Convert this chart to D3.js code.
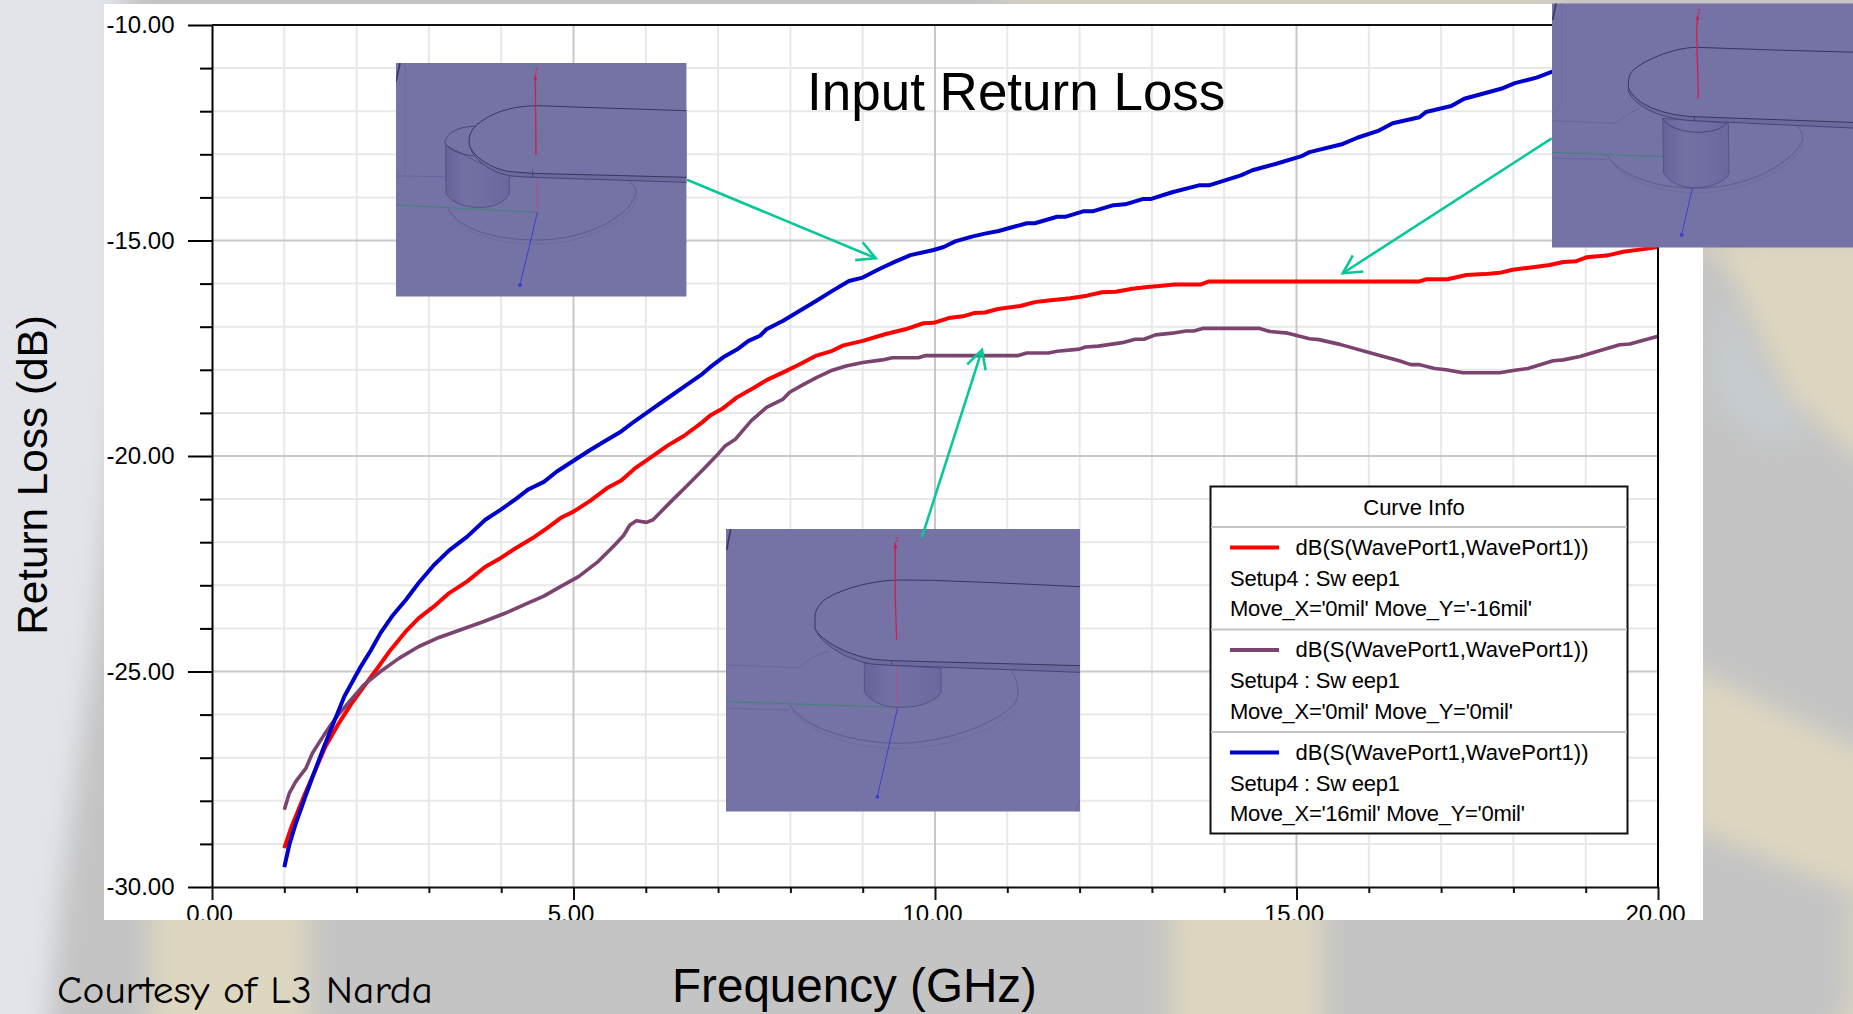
<!DOCTYPE html>
<html>
<head>
<meta charset="utf-8">
<script src="https://cdn.jsdelivr.net/npm/d3@7"></script>
<style>
html, body { margin: 0; padding: 0; background: #c4c4c4; overflow: hidden; }
text { font-family: "Liberation Sans", Arial, sans-serif; fill: #000; }
</style>
</head>
<body>
<svg id="chart" width="1853" height="1014"></svg>
<script>
var width = 1853, height = 1014;

// values: frequency in GHz, return loss in dB
var redFreq = [1.0,1.1,1.28,1.41,1.57,1.74,1.92,2.1,2.29,2.47,2.68,2.86,3.07,3.28,3.53,3.78,3.99,4.2,4.43,4.63,4.84,5.0,5.23,5.46,5.66,5.84,6.07,6.3,6.53,6.78,6.89,7.07,7.26,7.49,7.67,7.9,8.13,8.36,8.58,8.72,9.0,9.32,9.59,9.84,9.98,10.19,10.41,10.55,10.69,10.87,11.18,11.38,11.57,11.87,12.1,12.31,12.5,12.73,12.94,13.14,13.31,13.68,13.79,16.7,16.79,17.09,17.35,17.6,17.81,17.99,18.27,18.5,18.69,18.87,19.01,19.29,19.52,19.8,20];
var redDb = [-29.1,-28.6,-27.86,-27.36,-26.74,-26.24,-25.77,-25.35,-24.92,-24.5,-24.07,-23.76,-23.49,-23.18,-22.91,-22.57,-22.37,-22.14,-21.91,-21.68,-21.42,-21.29,-21.04,-20.75,-20.57,-20.3,-20.03,-19.76,-19.53,-19.22,-19.06,-18.89,-18.64,-18.42,-18.24,-18.06,-17.87,-17.67,-17.56,-17.44,-17.33,-17.17,-17.06,-16.92,-16.91,-16.8,-16.75,-16.68,-16.67,-16.59,-16.52,-16.43,-16.39,-16.34,-16.28,-16.2,-16.19,-16.12,-16.08,-16.05,-16.02,-16.02,-15.95,-15.95,-15.9,-15.9,-15.8,-15.78,-15.75,-15.68,-15.62,-15.57,-15.5,-15.48,-15.39,-15.35,-15.26,-15.2,-15.15];

var purpleFreq = [1.0,1.07,1.16,1.3,1.39,1.55,1.71,1.9,2.1,2.33,2.59,2.86,3.11,3.44,3.76,4.08,4.36,4.59,4.82,5.07,5.34,5.55,5.69,5.78,5.87,6.01,6.1,6.34,6.57,6.8,6.98,7.1,7.24,7.46,7.67,7.9,7.99,8.17,8.36,8.58,8.77,9.0,9.27,9.41,9.77,9.87,11.15,11.27,11.57,11.69,12.0,12.08,12.26,12.59,12.77,12.89,13.05,13.28,13.47,13.58,13.7,14.49,14.63,14.88,15.18,15.31,15.6,16.14,16.42,16.58,16.7,16.91,17.07,17.3,17.81,18.02,18.2,18.55,18.69,18.92,19.2,19.47,19.61,20];
var purpleDb = [-28.21,-27.82,-27.55,-27.24,-26.89,-26.47,-26.08,-25.7,-25.31,-25.0,-24.69,-24.42,-24.23,-24.03,-23.84,-23.63,-23.42,-23.25,-23.03,-22.8,-22.45,-22.1,-21.85,-21.6,-21.5,-21.54,-21.48,-21.07,-20.69,-20.3,-19.99,-19.76,-19.61,-19.18,-18.87,-18.68,-18.52,-18.35,-18.18,-18.01,-17.91,-17.83,-17.77,-17.72,-17.72,-17.67,-17.67,-17.61,-17.61,-17.57,-17.52,-17.47,-17.45,-17.37,-17.29,-17.29,-17.19,-17.15,-17.1,-17.1,-17.04,-17.04,-17.11,-17.15,-17.28,-17.3,-17.41,-17.66,-17.79,-17.88,-17.88,-17.97,-18.0,-18.07,-18.07,-18.01,-17.97,-17.79,-17.77,-17.69,-17.55,-17.42,-17.4,-17.22];

// the last two blue points sit behind the top right inset, so they are a guess
var blueFreq = [1.0,1.07,1.16,1.3,1.41,1.55,1.69,1.83,1.97,2.06,2.2,2.33,2.49,2.68,2.86,3.07,3.28,3.53,3.78,3.99,4.2,4.38,4.59,4.77,5.0,5.23,5.46,5.66,5.84,6.07,6.3,6.53,6.78,6.89,7.07,7.26,7.42,7.58,7.67,7.9,8.13,8.36,8.58,8.81,9.0,9.23,9.45,9.66,9.98,10.12,10.28,10.51,10.69,10.88,11.27,11.38,11.69,11.8,12.06,12.19,12.47,12.63,12.87,12.98,13.28,13.65,13.79,14.23,14.39,14.72,15.06,15.18,15.64,15.85,16.14,16.33,16.7,16.79,17.14,17.32,17.83,18.02,18.32,18.53,19.3,20];
var blueDb = [-29.54,-29.02,-28.52,-27.86,-27.36,-26.74,-26.16,-25.58,-25.15,-24.88,-24.5,-24.11,-23.72,-23.34,-22.94,-22.53,-22.19,-21.87,-21.48,-21.25,-21.0,-20.77,-20.6,-20.36,-20.11,-19.86,-19.63,-19.43,-19.2,-18.93,-18.66,-18.39,-18.1,-17.94,-17.71,-17.53,-17.33,-17.21,-17.06,-16.86,-16.63,-16.4,-16.17,-15.94,-15.86,-15.66,-15.49,-15.34,-15.22,-15.15,-15.02,-14.91,-14.84,-14.78,-14.6,-14.6,-14.45,-14.45,-14.32,-14.32,-14.18,-14.16,-14.04,-14.04,-13.88,-13.72,-13.72,-13.49,-13.37,-13.22,-13.05,-12.95,-12.76,-12.61,-12.45,-12.28,-12.14,-12.02,-11.88,-11.71,-11.48,-11.35,-11.22,-11.09,-10.7,-10.4];

var xMajor = [0, 5, 10, 15, 20];
var xMinor = [1,2,3,4,6,7,8,9,11,12,13,14,16,17,18,19];
var yMajor = [-10, -15, -20, -25, -30];
var yMinor = [-11,-12,-13,-14,-16,-17,-18,-19,-21,-22,-23,-24,-26,-27,-28,-29];

var legendTitle = "Curve Info";
var legendHead = ["dB(S(WavePort1,WavePort1))", "dB(S(WavePort1,WavePort1))", "dB(S(WavePort1,WavePort1))"];
var legendSetup = ["Setup4 : Sw eep1", "Setup4 : Sw eep1", "Setup4 : Sw eep1"];
var legendMove = ["Move_X='0mil' Move_Y='-16mil'", "Move_X='0mil' Move_Y='0mil'", "Move_X='16mil' Move_Y='0mil'"];
var curveColors = ["#ff0000", "#7b4470", "#0000cc"];

// arrows from the insets to the curves, [freq, dB] tail then tip
var arrowUnderA = [[6.57, -13.59], [9.18, -15.41]];
var arrowUnderB = [[18.53, -12.63], [15.64, -15.76]];
var arrowOver = [[9.82, -21.88], [10.65, -17.54]];

var svg = d3.select("#chart");
var plot = {left: 212, right: 1658, top: 25, bottom: 887};

var x = d3.scaleLinear().domain([0, 20]).range([plot.left, plot.right]);
var y = d3.scaleLinear().domain([-30, -10]).range([plot.bottom, plot.top]);

var defs = svg.append("defs");
defs.append("filter").attr("id", "blur")
    .attr("filterUnits", "userSpaceOnUse")
    .attr("x", -60).attr("y", -60).attr("width", width + 120).attr("height", height + 120)
    .append("feGaussianBlur").attr("stdDeviation", 13);
defs.append("clipPath").attr("id", "plot-clip")
    .append("rect").attr("x", plot.left).attr("y", plot.top - 2)
    .attr("width", plot.right - plot.left + 2).attr("height", plot.bottom - plot.top + 4);
var viaFill = defs.append("linearGradient").attr("id", "via");
viaFill.append("stop").attr("offset", "0%").attr("stop-color", "#65639a");
viaFill.append("stop").attr("offset", "35%").attr("stop-color", "#7371a4");
viaFill.append("stop").attr("offset", "100%").attr("stop-color", "#6a689d");

drawBackdrop();

svg.append("rect").attr("x", 104).attr("y", 4).attr("width", 1599).attr("height", 916).attr("fill", "#fff");

drawGrid();
drawCurves();
drawAxes();
drawLegend();

drawArrow(arrowUnderA);
drawArrow(arrowUnderB);

drawInset(inset1);
drawInset(inset3);
drawInset(inset2);

drawArrow(arrowOver);

svg.append("text").attr("x", 807).attr("y", 110).attr("font-size", 53).text("Input Return Loss");
svg.append("text").attr("transform", "translate(47,475) rotate(-90)")
    .attr("text-anchor", "middle").attr("font-size", 42.3).text("Return Loss (dB)");
svg.append("text").attr("x", 672).attr("y", 1002).attr("font-size", 47.6).text("Frequency (GHz)");
svg.append("text").attr("x", 57).attr("y", 1003)
    .style("font-family", '"Comic Sans MS", "Comic Neue", Lato, sans-serif')
    .attr("font-size", 38).attr("textLength", 376).attr("lengthAdjust", "spacingAndGlyphs")
    .text("Courtesy of L3 Narda");

function drawBackdrop() {
    svg.append("rect").attr("width", width).attr("height", height).attr("fill", "#c4c4c4");
    var blurred = svg.append("g").attr("filter", "url(#blur)");
    var beige = "#ded7c0";
    var shapes = [
        [[1703,240],[1890,240],[1890,485],[1790,395],[1728,265],[1703,250]],
        [[1690,668],[1890,765],[1890,905],[1690,826]],
        [[1830,1040],[1880,960],[1880,1040]],
        [[152,900],[308,900],[308,1050],[152,1050]],
        [[1172,900],[1322,900],[1322,1050],[1172,1050]],
        [[1852,900],[1880,900],[1880,1050],[1852,1050]],
        [[1000,-30],[1560,-30],[1560,2],[1000,2]]
    ];
    blurred.selectAll("path.beige").data(shapes).enter().append("path")
        .attr("class", "beige").attr("fill", beige)
        .attr("d", function(d) { return "M" + d.join("L") + "Z"; });
    blurred.append("path").attr("fill", "#c6ccd0")
        .attr("d", "M1716,295L1770,385L1810,435L1760,440L1716,400Z");
    // light band down the left side, narrowing towards the bottom
    blurred.append("path").attr("fill", "#e2e4e9")
        .attr("d", "M-40,-40L125,-40L125,320L95,640L60,900L45,1060L-40,1060Z");
}

function drawGrid() {
    var g = svg.append("g");
    g.selectAll("line.vminor").data(xMinor).enter().append("line").attr("class", "vminor")
        .attr("x1", x).attr("x2", x).attr("y1", plot.top).attr("y2", plot.bottom)
        .attr("stroke", "#e8e8e8").attr("stroke-width", 2);
    g.selectAll("line.hminor").data(yMinor).enter().append("line").attr("class", "hminor")
        .attr("y1", y).attr("y2", y).attr("x1", plot.left).attr("x2", plot.right)
        .attr("stroke", "#e8e8e8").attr("stroke-width", 2);
    g.selectAll("line.vmajor").data(xMajor.slice(1, 4)).enter().append("line").attr("class", "vmajor")
        .attr("x1", x).attr("x2", x).attr("y1", plot.top).attr("y2", plot.bottom)
        .attr("stroke", "#c8c8c8").attr("stroke-width", 2);
    g.selectAll("line.hmajor").data(yMajor.slice(1, 4)).enter().append("line").attr("class", "hmajor")
        .attr("y1", y).attr("y2", y).attr("x1", plot.left).attr("x2", plot.right)
        .attr("stroke", "#c8c8c8").attr("stroke-width", 2);
}

function drawCurves() {
    var line = d3.line().x(function(d) { return x(d[0]); }).y(function(d) { return y(d[1]); });
    var g = svg.append("g").attr("clip-path", "url(#plot-clip)").attr("fill", "none")
        .attr("stroke-linejoin", "round");
    var series = [
        {f: redFreq, v: redDb, color: curveColors[0], w: 4},
        {f: purpleFreq, v: purpleDb, color: curveColors[1], w: 3.6},
        {f: blueFreq, v: blueDb, color: curveColors[2], w: 4}
    ];
    series.forEach(function(s) {
        g.append("path").attr("d", line(d3.zip(s.f, s.v)))
            .attr("stroke", s.color).attr("stroke-width", s.w);
    });
}

function drawAxes() {
    // plain hyphen in the labels, as in the picture
    var fmt = function(v) { return d3.format(".2f")(v).replace("\u2212", "-"); };
    defs.append("clipPath").attr("id", "panel-clip-bottom")
        .append("rect").attr("x", 104).attr("y", -20).attr("width", 1599).attr("height", 53);
    var left = svg.append("g").attr("transform", "translate(" + plot.left + ",0)")
        .call(d3.axisLeft(y).tickValues(yMajor).tickFormat(fmt).tickSize(24).tickSizeOuter(0));
    var bottom = svg.append("g").attr("transform", "translate(0," + plot.bottom + ")")
        .attr("clip-path", "url(#panel-clip-bottom)")
        .call(d3.axisBottom(x).tickValues(xMajor).tickFormat(fmt).tickSize(13).tickSizeOuter(0));

    left.selectAll("line, path").attr("stroke", "#000").attr("stroke-width", 2);
    bottom.selectAll("line, path").attr("stroke", "#111").attr("stroke-width", 2);
    left.selectAll("text").attr("font-size", 24).attr("x", -37.5).style("font-family", '"Liberation Sans"');
    bottom.selectAll("text").attr("font-size", 24).attr("y", 18).attr("dx", -3).style("font-family", '"Liberation Sans"');

    svg.append("g").attr("transform", "translate(" + plot.left + ",0)")
        .call(d3.axisLeft(y).tickValues(yMinor).tickFormat("").tickSize(12).tickSizeOuter(0))
        .call(function(g) { g.select(".domain").remove(); })
        .selectAll("line").attr("stroke", "#000").attr("stroke-width", 2);
    svg.append("g").attr("transform", "translate(0," + plot.bottom + ")")
        .call(d3.axisBottom(x).tickValues(xMinor).tickFormat("").tickSize(6).tickSizeOuter(0))
        .call(function(g) { g.select(".domain").remove(); })
        .selectAll("line").attr("stroke", "#111").attr("stroke-width", 2);

    svg.append("line").attr("x1", plot.left).attr("x2", plot.right + 1).attr("y1", plot.top).attr("y2", plot.top)
        .attr("stroke", "#111").attr("stroke-width", 2);
    svg.append("line").attr("x1", plot.right).attr("x2", plot.right).attr("y1", plot.top).attr("y2", plot.bottom)
        .attr("stroke", "#000").attr("stroke-width", 2);
}

function drawLegend() {
    var g = svg.append("g");
    g.append("rect").attr("x", 1210.5).attr("y", 486.5).attr("width", 417).attr("height", 347)
        .attr("fill", "#fff").attr("stroke", "#111").attr("stroke-width", 2);
    g.append("text").attr("x", 1414).attr("y", 514.5).attr("text-anchor", "middle").attr("font-size", 22).text(legendTitle);
    var rowY = d3.scaleLinear().domain([0, 1]).range([527, 629.5]);
    legendHead.forEach(function(head, i) {
        var top = rowY(i);
        g.append("line").attr("x1", 1211).attr("x2", 1627).attr("y1", top).attr("y2", top)
            .attr("stroke", "#c4c4c4").attr("stroke-width", 2);
        g.append("line").attr("x1", 1230).attr("x2", 1279).attr("y1", top + 20.5).attr("y2", top + 20.5)
            .attr("stroke", curveColors[i]).attr("stroke-width", 4);
        g.append("text").attr("x", 1295.5).attr("y", top + 27.5).attr("font-size", 22).text(head);
        g.append("text").attr("x", 1230).attr("y", top + 58.5).attr("font-size", 22).attr("letter-spacing", -0.25).text(legendSetup[i]);
        g.append("text").attr("x", 1230).attr("y", top + 89).attr("font-size", 22).attr("letter-spacing", -0.3).text(legendMove[i]);
    });
}

function drawArrow(a) {
    var tail = [x(a[0][0]), y(a[0][1])], tip = [x(a[1][0]), y(a[1][1])];
    var back = Math.atan2(tail[1] - tip[1], tail[0] - tip[0]);
    var arm = 20.6, spread = 28 * Math.PI / 180;
    var g = svg.append("g").attr("fill", "none").attr("stroke", "#08c89a").attr("stroke-width", 2.6);
    g.append("path").attr("d", "M" + tail + "L" + tip);
    g.append("path").attr("d", "M" + [tip[0] + arm * Math.cos(back + spread), tip[1] + arm * Math.sin(back + spread)]
        + "L" + tip + "L" + [tip[0] + arm * Math.cos(back - spread), tip[1] + arm * Math.sin(back - spread)]);
}

// the three model screenshots, outlines traced at 3x from the origin given
function inset1() {
    return {
        ox: 380, oy: 50, box: [48, 39, 920, 740],
        via: "M197,285L198,430C215,460 260,475 310,472C350,470 385,450 388,425L388,370L300,340Z",
        viaTop: "M285,229C240,228 195,250 195,278C200,295 235,312 280,318",
        strip: "M920,182L700,175L470,167C390,168 330,190 290,225C270,245 265,260 268,285C280,320 330,355 390,365L458,370L920,382",
        stripFill: "M920,182L700,175L470,167C390,168 330,190 290,225C270,245 265,260 268,285C280,335 340,370 395,378L458,382L920,397Z",
        lower: "M268,285C280,335 340,370 395,378L458,382L920,397M458,362L458,382",
        pad: "M205,478C240,540 350,570 470,570C620,570 750,500 768,430C768,415 760,400 745,392",
        pad2: "M215,490C250,552 350,582 470,582C620,582 755,512 772,440",
        trace: "M48,378L200,380M390,380L700,388",
        green: "M48,465L470,487",
        red: "M466,80L468,315", redFaint: "M470,385L472,487",
        head: "M466,70L461,90L471,90Z", zAt: [471, 68],
        blue: "M472,487L420,705",
        corner: "M60,39L48,95", faint: "M75,39L75,370"
    };
}

function inset2() {
    return {
        ox: 1380, oy: 0, box: [516, 10, 1440, 743],
        via: "M848,355L851,520C870,550 910,565 950,563C1000,562 1040,540 1047,520L1045,370Z",
        viaTop: "M848,355C860,385 920,397 960,397C1000,395 1030,385 1040,368",
        strip: "M1440,157L1180,150L950,142C880,143 790,180 755,215C745,230 745,245 745,262C765,315 850,345 940,350L1440,368",
        stripFill: "M1440,157L1180,150L950,142C880,143 790,180 755,215C745,230 745,245 745,262L745,275C770,325 850,358 940,362L1330,380L1440,385Z",
        lower: "M745,262L745,275C770,325 850,358 940,362L1330,380L1440,385M943,350L943,363",
        pad: "M683,467C710,520 820,565 950,565C1100,565 1240,490 1268,420C1268,400 1260,385 1250,375",
        pad2: "M693,480C720,532 820,578 950,578C1100,578 1245,500 1270,432",
        trace: "M516,362L705,370L740,345L780,325M516,475L683,478",
        green: "M516,457L850,470",
        red: "M953,50L950,90L955,295", redFaint: "",
        head: "M953,42L948,60L958,60Z", zAt: [958, 42],
        blue: "M937,565L905,705",
        corner: "M528,10L518,60", faint: "M545,10L545,310L516,345"
    };
}

function inset3() {
    return {
        ox: 700, oy: 500, box: [78, 87, 1140, 935],
        via: "M493,490L493,575C510,605 550,622 600,622C660,622 705,605 723,578L723,505Z",
        viaTop: "",
        strip: "M1140,260L880,248L700,241L600,240C520,240 430,265 380,295C355,312 345,335 345,350L345,385C360,420 440,465 520,478L575,482L1140,497",
        stripFill: "M1140,260L880,248L700,241L600,240C520,240 430,265 380,295C355,312 345,335 345,350L345,385C360,430 440,480 515,492L575,496L1140,517Z",
        lower: "M345,385C360,430 440,480 515,492L575,496L1140,517M575,480L575,496",
        pad: "M270,615C300,670 420,725 590,730C720,730 880,680 945,610C960,585 955,545 935,512",
        pad2: "M280,632C320,690 430,742 590,746C730,746 890,695 950,625",
        trace: "M78,495L295,503L340,470L390,452M78,625L270,630",
        green: "M78,605L590,622",
        red: "M586,130L586,300L590,420", redFaint: "M590,490L593,622",
        head: "M586,125L580,145L592,145Z", zAt: [593, 125],
        blue: "M593,622L532,890",
        corner: "M92,87L80,150", faint: "M1140,895L1130,935"
    };
}

function drawInset(make) {
    var s = make();
    var b = s.box;
    var id = "inset-" + s.ox;
    defs.append("clipPath").attr("id", id).append("rect")
        .attr("x", b[0]).attr("y", b[1]).attr("width", b[2] - b[0]).attr("height", b[3] - b[1]);
    var g = svg.append("g").attr("transform", "translate(" + s.ox + "," + s.oy + ") scale(" + (1 / 3) + ")")
        .attr("clip-path", "url(#" + id + ")").attr("fill", "none");
    g.append("rect").attr("x", b[0]).attr("y", b[1]).attr("width", b[2] - b[0]).attr("height", b[3] - b[1]).attr("fill", "#7572a6");
    g.append("path").attr("d", s.faint).attr("stroke", "#6c6a9e").attr("stroke-width", 3);
    g.append("path").attr("d", s.pad2).attr("stroke", "#6c6a9c").attr("stroke-width", 2.5);
    g.append("path").attr("d", s.pad).attr("stroke", "#5d5b90").attr("stroke-width", 3);
    g.append("path").attr("d", s.trace).attr("stroke", "#65639a").attr("stroke-width", 2.5);
    g.append("path").attr("d", s.green).attr("stroke", "#3f8478").attr("stroke-width", 3);
    g.append("path").attr("d", s.via).attr("fill", "url(#via)").attr("stroke", "#4f4d82").attr("stroke-width", 2.5);
    g.append("path").attr("d", s.viaTop).attr("stroke", "#3e3c70").attr("stroke-width", 2.5);
    g.append("path").attr("d", s.redFaint).attr("stroke", "#b0507a").attr("stroke-width", 3);
    g.append("path").attr("d", s.blue).attr("stroke", "#3f3fd0").attr("stroke-width", 3);
    g.append("path").attr("d", s.stripFill).attr("fill", "#6c6a9c");
    g.append("path").attr("d", s.strip).attr("fill", "#7572a6").attr("stroke", "#37365f").attr("stroke-width", 3);
    g.append("path").attr("d", s.lower).attr("stroke", "#45447a").attr("stroke-width", 3);
    g.append("path").attr("d", s.red).attr("stroke", "#d01f4c").attr("stroke-width", 4);
    g.append("path").attr("d", s.head).attr("fill", "#c81f4c");
    g.append("text").attr("x", s.zAt[0]).attr("y", s.zAt[1]).attr("text-anchor", "middle")
        .attr("font-size", 26).style("fill", "#c8305a").text("z");
    g.append("circle").attr("cx", blueEnd(s.blue)[0]).attr("cy", blueEnd(s.blue)[1]).attr("r", 6).attr("fill", "#3f3fd0");
    g.append("path").attr("d", s.corner).attr("stroke", "#3a3960").attr("stroke-width", 5);
}

function blueEnd(d) {
    var p = d.split("L")[1].split(",");
    return [+p[0], +p[1]];
}
</script>
</body>
</html>
